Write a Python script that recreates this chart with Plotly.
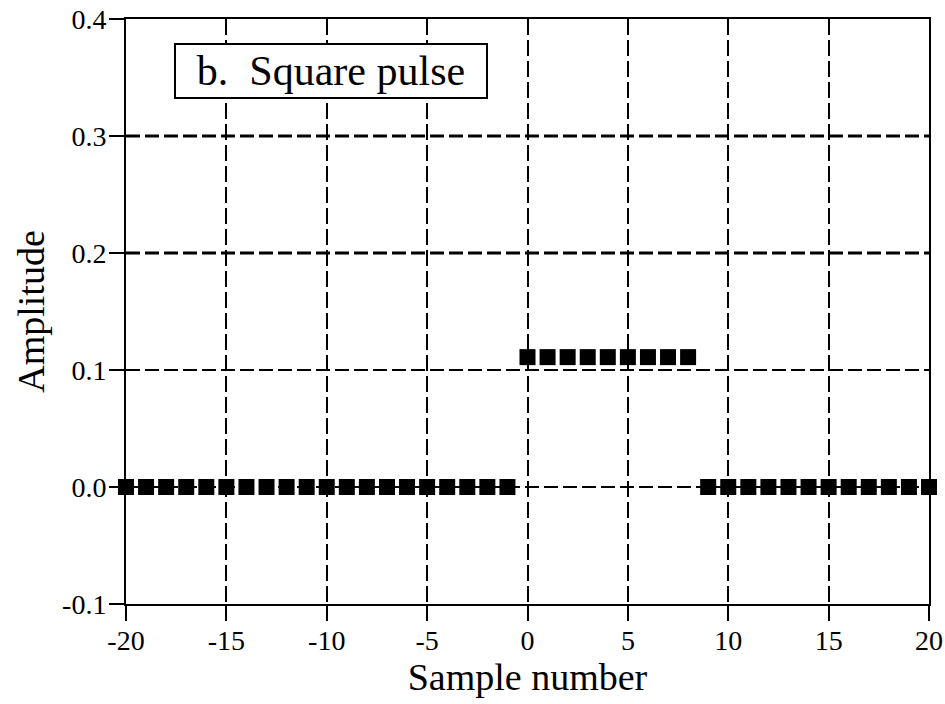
import plotly.graph_objects as go

# ---- data ----
sample_number = [-20, -19, -18, -17, -16, -15, -14, -13, -12, -11,
                 -10, -9, -8, -7, -6, -5, -4, -3, -2, -1,
                 0, 1, 2, 3, 4, 5, 6, 7, 8,
                 9, 10, 11, 12, 13, 14, 15, 16, 17, 18, 19, 20]
amplitude = [0.0, 0.0, 0.0, 0.0, 0.0, 0.0, 0.0, 0.0, 0.0, 0.0,
             0.0, 0.0, 0.0, 0.0, 0.0, 0.0, 0.0, 0.0, 0.0, 0.0,
             0.111, 0.111, 0.111, 0.111, 0.111, 0.111, 0.111, 0.111, 0.111,
             0.0, 0.0, 0.0, 0.0, 0.0, 0.0, 0.0, 0.0, 0.0, 0.0, 0.0, 0.0]
x_ticks = [-20, -15, -10, -5, 0, 5, 10, 15, 20]
x_tick_labels = ["-20", "-15", "-10", "-5", "0", "5", "10", "15", "20"]
y_ticks = [-0.1, 0.0, 0.1, 0.2, 0.3, 0.4]
y_tick_labels = ["-0.1", "0.0", "0.1", "0.2", "0.3", "0.4"]
heavy_grid = [0.2, 0.3]
title_text = "b.\u00a0\u00a0Square pulse"

FONT = "Liberation Serif, Times New Roman, serif"

fig = go.Figure()
fig.add_trace(go.Scatter(
    x=sample_number, y=amplitude, mode="markers",
    marker=dict(symbol="square", size=16, color="black", line=dict(width=0)),
    cliponaxis=False, showlegend=False,
))

axis_common = dict(
    showline=True, linecolor="black", linewidth=2, mirror=True,
    ticks="outside", ticklen=15, tickwidth=2, tickcolor="black",
    showgrid=True, gridcolor="black", gridwidth=1.6,
    zeroline=False,
    tickfont=dict(family=FONT, size=28, color="black"),
)

fig.update_xaxes(
    range=[-20, 20], tickvals=x_ticks, ticktext=x_tick_labels, griddash="16px,5px",
    ticklabelstandoff=-5,
    title=dict(text="Sample number", font=dict(family=FONT, size=38, color="black"), standoff=0),
    **axis_common,
)
fig.update_yaxes(
    range=[-0.1, 0.4], tickvals=y_ticks, ticktext=y_tick_labels, griddash="14px,5px",
    ticklabelstandoff=-3,
    title=dict(text="Amplitude", font=dict(family=FONT, size=38, color="black"), standoff=6),
    **axis_common,
)

for yv in heavy_grid:
    fig.add_shape(type="line", xref="paper", x0=0, x1=1, yref="y", y0=yv, y1=yv,
                  line=dict(color="black", width=3, dash="14px,5px"), layer="below")

fig.add_annotation(
    xref="paper", yref="paper", x=0.06, y=0.959, xanchor="left", yanchor="top",
    text=title_text, showarrow=False, font=dict(family=FONT, size=42, color="black"),
    bordercolor="black", borderwidth=2, bgcolor="white", width=308, height=50,
    align="center",
)

fig.update_layout(
    width=945, height=704,
    margin=dict(l=126, r=16, t=19, b=100, autoexpand=False),
    plot_bgcolor="white", paper_bgcolor="white",
    font=dict(family=FONT, color="black"),
)

fig.write_html(
    "out.html",
    config={"displayModeBar": False},
    post_script="document.body.style.margin='0';document.body.style.overflow='hidden';",
)
